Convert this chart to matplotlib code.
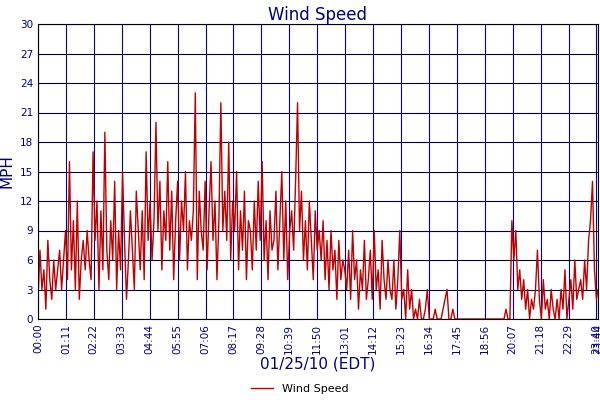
import matplotlib
matplotlib.use("Agg")
import matplotlib.pyplot as plt
import numpy as np

speed = [
 2,7,3,5,1,8,4,2,6,3,5,7,
 3,6,9,4,16,5,10,3,12,2,6,8,
 5,9,6,4,17,8,12,3,11,5,19,7,
 4,10,6,14,3,9,5,15,8,2,6,11,
 7,3,13,9,5,11,4,17,8,12,6,10,
 20,9,14,5,11,8,16,7,13,4,10,14,
 6,12,9,15,5,10,8,11,23,4,13,9,
 7,14,5,11,16,8,12,4,10,22,9,13,
 8,18,6,12,9,15,5,11,7,13,4,10,
 9,5,12,7,14,8,16,6,10,4,11,7,
 8,13,5,10,15,6,12,4,9,11,7,14,
 22,9,13,6,10,5,12,8,4,11,7,9,
 6,10,4,8,3,9,5,7,2,8,4,6,
 5,3,7,2,9,4,6,1,5,3,8,2,
 4,7,2,9,3,5,1,8,4,2,6,3,
 2,6,1,4,9,2,3,0,5,1,3,0,
 1,0,2,0,0,1,3,0,0,0,1,0,
 0,0,1,2,3,0,0,1,0,0,0,0,
 0,0,0,0,0,0,0,0,0,0,0,0,
 0,0,0,0,0,0,0,0,0,0,1,0,
 0,10,6,9,3,5,2,4,1,3,0,2,
 1,3,7,2,0,4,1,2,0,3,1,0,
 2,0,3,1,5,0,2,4,1,6,2,3,
 4,2,6,3,8,10,14,5,2,3]
minutes = [5*i for i in range(len(speed) - 1)] + [1424]
tick_min = [0,71,142,213,284,355,426,497,568,639,710,781,852,923,994,1065,1136,1207,1278,1349,1420,1424]
tick_lab = ["00:00","01:11","02:22","03:33","04:44","05:55","07:06","08:17","09:28","10:39","11:50",
            "13:01","14:12","15:23","16:34","17:45","18:56","20:07","21:18","22:29","23:40","23:44"]

navy = "#000080"
fig = plt.figure(figsize=(6, 4), dpi=100)
ax = fig.add_axes([38/600, 81/400, 560/600, 295/400])
ax.plot(minutes, speed, color="#c00000", lw=1.0, label="Wind Speed")
ax.set_xlim(0, 1424)
ax.set_ylim(0, 30)
ax.set_yticks(range(0, 31, 3))
ax.set_xticks(tick_min)
ax.set_xticklabels(tick_lab, rotation=90, fontsize=7.5, color=navy)
ax.tick_params(axis="y", labelsize=7.5, labelcolor=navy, length=0)
ax.tick_params(axis="x", length=0)
ax.grid(axis="x", color="#0000a0", lw=0.8)
ax.grid(axis="y", color="#000040", lw=0.8)
ax.set_axisbelow(True)
for s in ax.spines.values():
    s.set_color("black")
ax.set_title("Wind Speed", color=navy, fontsize=12, pad=3)
ax.set_ylabel("MPH", color=navy, fontsize=11)
ax.set_xlabel("01/25/10 (EDT)", color=navy, fontsize=11, labelpad=2)
fig.legend(loc="lower center", bbox_to_anchor=(0.5, -0.01), frameon=False, fontsize=8)
fig.savefig("out.png")
